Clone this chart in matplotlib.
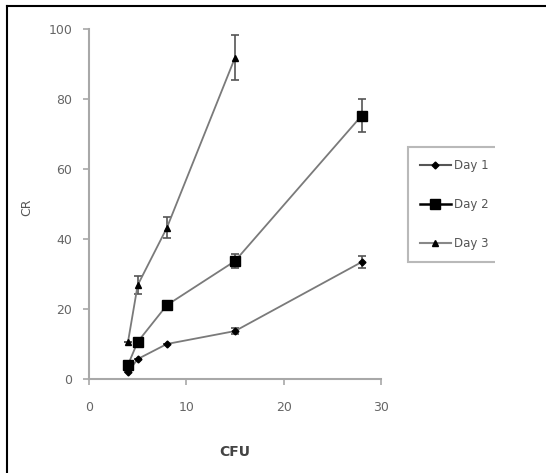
import matplotlib
matplotlib.use("Agg")
import matplotlib.pyplot as plt
from matplotlib.lines import Line2D
from matplotlib.patches import Rectangle

# Data
day1_x = [4, 5, 8, 15, 28]
day1_y = [2, 5.7, 10, 13.7, 33.4]
day1_err = [0, 0, 0, 0.8, 1.7]

day2_x = [4, 5, 8, 15, 28]
day2_y = [4, 10.6, 21.1, 33.7, 75.2]
day2_err = [0, 0, 0.8, 2.0, 4.7]

day3_x = [4, 5, 8, 15]
day3_y = [10.5, 26.8, 43.2, 91.8]
day3_err = [0, 2.6, 3.0, 6.5]

labels = ["Day 1", "Day 2", "Day 3"]
xticks = [0, 10, 20, 30]
yticks = [0, 20, 40, 60, 80, 100]

W, H = 546, 473
fig = plt.figure(figsize=(W / 100, H / 100), dpi=100)
fig.patch.set_facecolor("white")
ax = fig.add_axes([89 / W, 1 - 379 / H, (381 - 89) / W, (379 - 29) / H])

line_c = "#7a7a7a"
kw = dict(color=line_c, ecolor="#555555", elinewidth=1.2, capsize=3, capthick=1.2,
          markerfacecolor="black", markeredgecolor="black", lw=1.3)
ax.errorbar(day1_x, day1_y, yerr=day1_err, marker="D", ms=3.5, **kw)
ax.errorbar(day2_x, day2_y, yerr=day2_err, marker="s", ms=7, **kw)
ax.errorbar(day3_x, day3_y, yerr=day3_err, marker="^", ms=5, **kw)

ax.set_xlim(0, 30)
ax.set_ylim(0, 100)
ax.set_xticks(xticks)
ax.set_yticks(yticks)
for s in ["top", "right"]:
    ax.spines[s].set_visible(False)
for s in ["left", "bottom"]:
    ax.spines[s].set_color("#a8a8a8")
    ax.spines[s].set_linewidth(1.5)
ax.tick_params(colors="#a8a8a8", labelcolor="#666666", labelsize=9, length=4, width=1.2)
ax.tick_params(axis="x", pad=12)
ax.tick_params(axis="y", pad=8)

fig.text(235 / W, 1 - 452 / H, "CFU", ha="center", va="center", fontsize=10,
         fontweight="bold", color="#444444")
fig.text(27 / W, 1 - 207 / H, "CR", ha="center", va="center", fontsize=9,
         rotation=90, color="#555555")

handles = [
    Line2D([], [], color="#555555", lw=1.5, marker="D", ms=3.5,
           markerfacecolor="black", markeredgecolor="black"),
    Line2D([], [], color="black", lw=1.8, marker="s", ms=7,
           markerfacecolor="black", markeredgecolor="black"),
    Line2D([], [], color="#888888", lw=1.5, marker="^", ms=5,
           markerfacecolor="black", markeredgecolor="black"),
]
leg = ax.legend(handles, labels, loc="upper left", bbox_to_anchor=(408 / W, 1 - 147 / H),
                bbox_transform=fig.transFigure, frameon=True, fancybox=False,
                fontsize=8.5, labelspacing=2.2, handlelength=2.6, handletextpad=0.3,
                borderpad=1.0, borderaxespad=0)
leg.get_frame().set_edgecolor("#a8a8a8")
leg.get_frame().set_linewidth(1.5)
for t in leg.get_texts():
    t.set_color("#555555")

# crop-like white cover on the right edge
fig.patches.append(Rectangle((495 / W, 1 - 280 / H), (W - 495) / W, 145 / H,
                             transform=fig.transFigure, facecolor="white",
                             edgecolor="none", zorder=10))

# outer frame lines (top and left)
fig.add_artist(Line2D([7 / W, 1], [1 - 6 / H, 1 - 6 / H], color="black", lw=1.5,
                      transform=fig.transFigure))
fig.add_artist(Line2D([7 / W, 7 / W], [0, 1 - 6 / H], color="black", lw=1.5,
                      transform=fig.transFigure))

fig.savefig("out.png", dpi=100, facecolor="white")
